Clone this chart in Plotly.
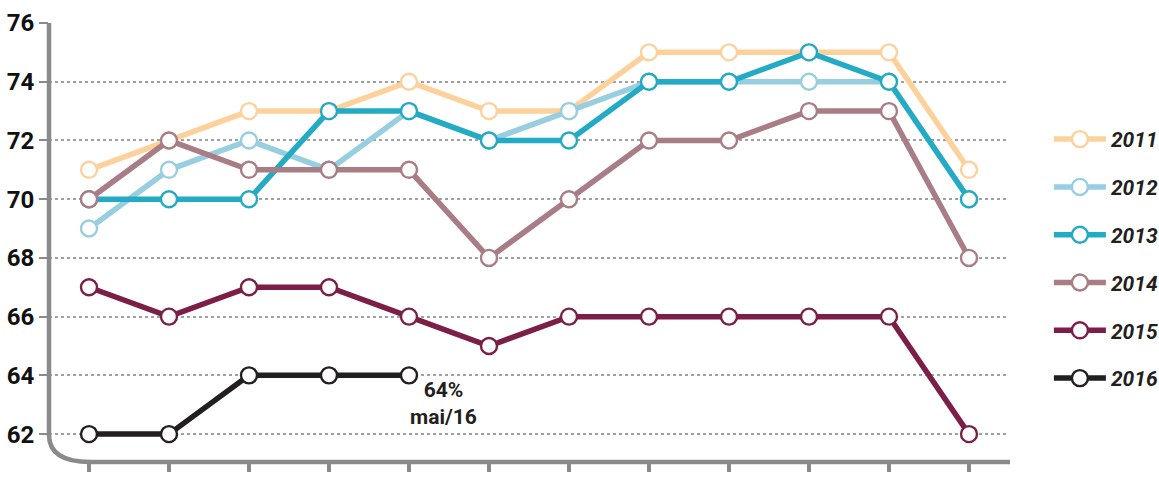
import plotly.graph_objects as go

# months (jan..dez) as index positions, values in %
months = list(range(12))
series_names = ["2011", "2012", "2013", "2014", "2015", "2016"]
v2011 = [71, 72, 73, 73, 74, 73, 73, 75, 75, 75, 75, 71]
v2012 = [69, 71, 72, 71, 73, 72, 73, 74, 74, 74, 74, 70]
v2013 = [70, 70, 70, 73, 73, 72, 72, 74, 74, 75, 74, 70]
v2014 = [70, 72, 71, 71, 71, 68, 70, 72, 72, 73, 73, 68]
v2015 = [67, 66, 67, 67, 66, 65, 66, 66, 66, 66, 66, 62]
v2016 = [62, 62, 64, 64, 64]
colors = ["#FDD19C", "#97CEE0", "#23ABC5", "#A97D85", "#7B1E48", "#231F20"]
y_ticks = [62, 64, 66, 68, 70, 72, 74, 76]

AXIS_GRAY = "#8A8A8D"
LABEL_FONT = "Roboto, DejaVu Sans Condensed, sans-serif"

fig = go.Figure()

for name, vals, col in zip(series_names, [v2011, v2012, v2013, v2014, v2015, v2016], colors):
    fig.add_trace(go.Scatter(
        x=months[:len(vals)],
        y=vals,
        mode='lines+markers',
        name=name,
        legendgroup=name,
        line=dict(color=col, width=5.5),
        marker=dict(size=16, color='white', line=dict(color=col, width=2.4)),
    ))

# label at the last 2016 point
fig.add_annotation(
    x=4.43, y=v2016[-1], text="64%<br>mai/16", showarrow=False,
    yanchor='top', yshift=-1, xanchor='center',
    font=dict(family=LABEL_FONT, size=21, color="#231F20", weight='bold'),
)

# rounded axis corner (left + bottom line)
fig.add_shape(
    type='path', xref='paper', yref='paper', layer='above',
    path="M 0,1 L 0,0.062 Q 0,0 0.043,0 L 1.001,0",
    line=dict(color=AXIS_GRAY, width=4.5),
)

fig.update_layout(
    width=1159, height=502,
    margin=dict(l=49, r=150, t=23, b=40),
    plot_bgcolor='white', paper_bgcolor='white',
    showlegend=True,
    legend=dict(
        xref='container', yref='container',
        x=0.905, y=0.763, xanchor='left', yanchor='top',
        font=dict(family=LABEL_FONT, size=21, color="#231F20", weight='bold', style='italic'),
        tracegroupgap=17.5, itemwidth=52, bgcolor='rgba(0,0,0,0)',
        maxheight=1000,
    ),
    xaxis=dict(
        range=[-0.5, 11.5], tickvals=months, showticklabels=False,
        ticks='outside', ticklen=9, tickwidth=4, tickcolor=AXIS_GRAY,
        showgrid=False, zeroline=False, showline=False, automargin=False,
    ),
    yaxis=dict(
        range=[61.05, 76], tickvals=y_ticks,
        ticks='outside', ticklen=9, tickwidth=2, tickcolor=AXIS_GRAY,
        tickfont=dict(family=LABEL_FONT, size=24, color="#111111", weight='bold'),
        showgrid=True, gridcolor="#A0A0A0", gridwidth=2, griddash='dot',
        zeroline=False, showline=False, automargin=False,
    ),
)

# drop the page's default body margin so the figure sits at the window origin
fig.write_html(
    "out.html",
    config={'responsive': False, 'displayModeBar': False},
    post_script="document.body.style.margin='0';document.body.style.overflow='hidden';",
)
